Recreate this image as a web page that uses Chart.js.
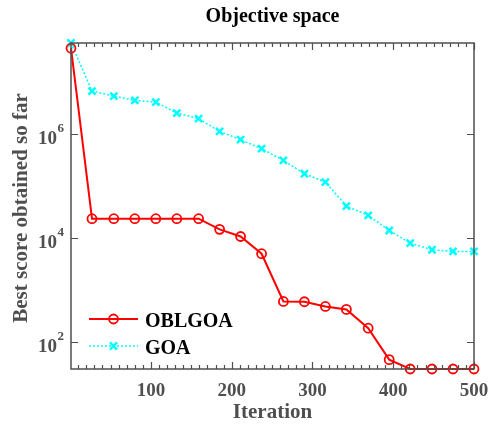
<!doctype html>
<html lang="en">

<head>
    <meta charset="utf-8">
    <title>Objective space</title>
    <script src="https://cdn.jsdelivr.net/npm/chart.js@4.4.1/dist/chart.umd.min.js"></script>
    <style>
        body { margin: 0; background: #fff; }
    </style>
</head>

<body>
    <canvas id="myChart" width="492" height="424"></canvas>
    <script>
        // iterations where the markers sit
        const iterations = [1, 27, 54, 80, 106, 132, 159, 185, 211, 237, 264, 290, 316, 342, 369, 395, 421, 448, 474, 500];
        // best score so far
        const oblgoa = [4.6e7, 2.36e4, 2.36e4, 2.36e4, 2.36e4, 2.36e4, 2.36e4, 1.47e4, 1.07e4, 4980,
            597, 590, 478, 419, 182, 45, 29.7, 29.7, 29.7, 29.7];
        const goa = [5.8e7, 6.85e6, 5.49e6, 4.53e6, 4.2e6, 2.58e6, 2.01e6, 1.14e6, 7.9e5, 5.3e5,
            3.15e5, 1.74e5, 1.2e5, 4.13e4, 2.73e4, 1.4e4, 7980, 5940, 5510, 5510];
        const seriesNames = ['OBLGOA', 'GOA'];
        const xTicks = [100, 200, 300, 400, 500];
        const yTickExps = [2, 4, 6];

        const FONT = '"Liberation Serif", "Times New Roman", serif';
        const AXIS_COLOR = '#4f4f4f';

        // MATLAB-ish axes: box, inward ticks, labels, legend
        const matlabAxes = {
            id: 'matlabAxes',
            afterDatasetsDraw(chart) {
                const ctx = chart.ctx;
                const a = chart.chartArea;
                const xs = chart.scales.x, ys = chart.scales.y;
                ctx.save();
                ctx.strokeStyle = AXIS_COLOR;
                ctx.lineWidth = 1.5;
                ctx.strokeRect(a.left, a.top, a.right - a.left, a.bottom - a.top);

                // x ticks, minor every 10
                ctx.lineWidth = 1.2;
                ctx.beginPath();
                for (let v = 10; v <= 500; v += 10) {
                    const px = Math.round(xs.getPixelForValue(v)) + 0.5;
                    const len = (v % 100 === 0) ? 7 : 4;
                    ctx.moveTo(px, a.bottom); ctx.lineTo(px, a.bottom - len);
                    ctx.moveTo(px, a.top); ctx.lineTo(px, a.top + len);
                }
                yTickExps.forEach(e => {
                    const py = Math.round(ys.getPixelForValue(Math.pow(10, e))) + 0.5;
                    ctx.moveTo(a.left, py); ctx.lineTo(a.left + 7, py);
                    ctx.moveTo(a.right, py); ctx.lineTo(a.right - 7, py);
                });
                ctx.stroke();

                // tick labels
                ctx.fillStyle = AXIS_COLOR;
                ctx.font = 'bold 19px ' + FONT;
                ctx.textAlign = 'center';
                ctx.textBaseline = 'alphabetic';
                xTicks.forEach(v => {
                    ctx.fillText(String(v), xs.getPixelForValue(v), 396);
                });
                yTickExps.forEach(e => {
                    const py = ys.getPixelForValue(Math.pow(10, e));
                    ctx.font = 'bold 19px ' + FONT;
                    ctx.textAlign = 'right';
                    ctx.fillText('10', 57, py + 10);
                    ctx.font = 'bold 13px ' + FONT;
                    ctx.textAlign = 'left';
                    ctx.fillText(String(e), 57.5, py - 2);
                });

                // axis titles
                ctx.font = 'bold 21px ' + FONT;
                ctx.textAlign = 'center';
                ctx.fillText('Iteration', (a.left + a.right) / 2, 418);
                ctx.save();
                ctx.translate(27, (a.top + a.bottom) / 2 + 2);
                ctx.rotate(-Math.PI / 2);
                ctx.fillText('Best score obtained so far', 0, 0);
                ctx.restore();

                // title
                ctx.fillStyle = '#000';
                ctx.font = 'bold 20px ' + FONT;
                ctx.fillText('Objective space', (a.left + a.right) / 2, 22);

                // legend
                const rows = [319, 346];
                chart.data.datasets.forEach((ds, i) => {
                    const y = rows[i];
                    ctx.save();
                    ctx.strokeStyle = ds.borderColor;
                    ctx.lineWidth = ds.borderWidth;
                    ctx.setLineDash(ds.borderDash || []);
                    ctx.beginPath();
                    ctx.moveTo(89, y); ctx.lineTo(138, y);
                    ctx.stroke();
                    ctx.restore();
                    ctx.save();
                    ctx.strokeStyle = ds.pointBorderColor;
                    ctx.fillStyle = ds.pointBackgroundColor;
                    ctx.lineWidth = ds.pointBorderWidth;
                    Chart.helpers.drawPoint(ctx, {
                        pointStyle: ds.pointStyle,
                        radius: ds.pointRadius,
                        borderWidth: ds.pointBorderWidth
                    }, 113.5, y);
                    ctx.restore();
                    ctx.fillStyle = '#000';
                    ctx.font = 'bold 20px ' + FONT;
                    ctx.textAlign = 'left';
                    ctx.fillText(seriesNames[i], 145, y + 7.5);
                });
                ctx.restore();
            }
        };

        const ctx = document.getElementById('myChart');
        const myChart = new Chart(ctx, {
            type: 'line',
            data: {
                datasets: [{
                    label: seriesNames[0],
                    data: iterations.map((x, i) => ({ x: x, y: oblgoa[i] })),
                    borderColor: '#ff0000',
                    borderWidth: 2,
                    pointStyle: 'circle',
                    pointRadius: 4.5,
                    pointBorderWidth: 1.8,
                    pointBorderColor: '#ff0000',
                    pointBackgroundColor: 'rgba(0,0,0,0)',
                    clip: false,
                    order: 1
                }, {
                    label: seriesNames[1],
                    data: iterations.map((x, i) => ({ x: x, y: goa[i] })),
                    borderColor: '#00ffff',
                    borderWidth: 1.5,
                    borderDash: [2, 2],
                    pointStyle: 'crossRot',
                    pointRadius: 5,
                    pointBorderWidth: 2.5,
                    pointBorderColor: '#00ffff',
                    pointBackgroundColor: '#00ffff',
                    clip: false,
                    order: 2
                }]
            },
            options: {
                responsive: false,
                animation: false,
                layout: { padding: { left: 71, right: 18, top: 43, bottom: 55 } },
                plugins: {
                    legend: { display: false },
                    tooltip: { enabled: false }
                },
                scales: {
                    x: { type: 'linear', min: 1, max: 500, display: false },
                    y: { type: 'logarithmic', min: 29.7, max: 5.8e7, display: false }
                }
            },
            plugins: [matlabAxes]
        });
    </script>
</body>

</html>
